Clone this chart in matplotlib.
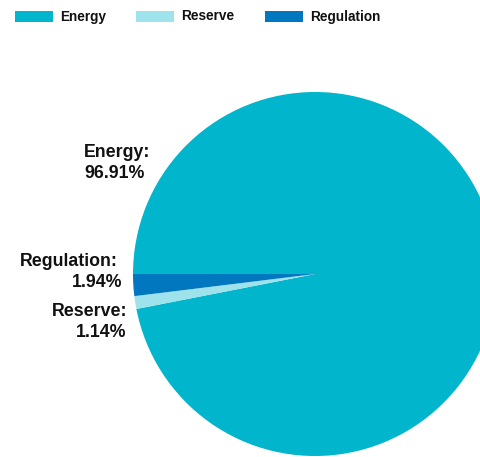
import matplotlib
matplotlib.use("Agg")
import matplotlib.pyplot as plt
from matplotlib.patches import Rectangle

categories = ["Energy", "Reserve", "Regulation"]
shares = [96.91, 1.14, 1.94]
colors = ["#00B5CC", "#9EE2EC", "#0077BF"]

W, H = 481, 457
fig = plt.figure(figsize=(W / 100, H / 100), dpi=100)
ax = fig.add_axes([0, 0, 1, 1])

# pie geometry in pixels
cx, cy, r = 315, 274, 182
ax.pie(shares, colors=colors, startangle=180, counterclock=False,
       radius=1.0, center=(0, 0), wedgeprops=dict(linewidth=0))
ax.set_aspect("equal")
ax.set_xlim(-cx / r, (W - cx) / r)
ax.set_ylim((cy - H) / r, cy / r)
ax.axis("off")

def px(x, y):
    return (x - cx) / r, (cy - y) / r

font = dict(family=["Liberation Sans", "DejaVu Sans"], fontweight="bold",
            color="#111111")

# slice labels: name line and value line, each (x, baseline y, alignment)
label_pos = {
    "Energy": ((84, 157, "left"), (84, 178, "left")),
    "Regulation": ((118, 266, "right"), (122, 287, "right")),
    "Reserve": ((127, 316, "right"), (126, 337, "right")),
}
for name, val in zip(categories, shares):
    (x1, y1, h1), (x2, y2, h2) = label_pos[name]
    ax.text(*px(x1, y1), f"{name}:", ha=h1, va="baseline", fontsize=12.8, **font)
    ax.text(*px(x2, y2), f"{val:.2f}%", ha=h2, va="baseline", fontsize=12.8, **font)

# legend row
legend_x = [15, 136, 265]
for name, col, lx in zip(categories, colors, legend_x):
    fig.patches.append(Rectangle((lx / W, 1 - 22 / H), 38 / W, 11 / H,
                                 transform=fig.transFigure, color=col, linewidth=0))
    fig.text((lx + 45) / W, 1 - 20.5 / H, name, ha="left", va="baseline",
             fontsize=9.8, **font)

fig.savefig("out.png", dpi=100)
